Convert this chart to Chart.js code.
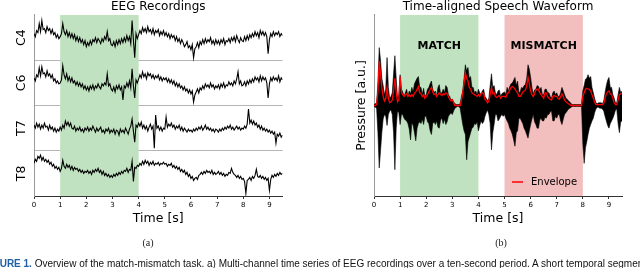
<!DOCTYPE html>
<html>
<head>
<meta charset="utf-8">
<script src="https://cdn.jsdelivr.net/npm/chart.js@4.4.0/dist/chart.umd.min.js"></script>
<style>
  body { margin: 0; width: 640px; height: 268px; overflow: hidden; background: #fff; position: relative; }
  .panel { position: absolute; top: 0; width: 320px; height: 268px; }
  .sub { position: absolute; top: 237px; width: 40px; text-align: center; line-height: 12px;
         font: 10px 'Liberation Serif', serif; color: #222; }
  .caption { position: absolute; left: -17px; top: 259px; font: 10px/10px 'Liberation Sans', sans-serif;
             white-space: nowrap; color: #111; }
  .caption b { color: #1f5fa8; }
</style>
</head>
<body>
<div class="panel" style="left:0"><canvas id="eeg"></canvas></div>
<div class="panel" style="left:320px"><canvas id="speech"></canvas></div>
<div class="sub" style="left:128px">(a)</div>
<div class="sub" style="left:481px">(b)</div>
<div class="caption"><b>FIGURE 1.</b> Overview of the match-mismatch task. a) Multi-channel time series of EEG recordings over a ten-second period. A short temporal segment</div>
<script>
// sampling step of all series, seconds
const dt = 0.05;
const timeTicks = [0, 1, 2, 3, 4, 5, 6, 7, 8, 9];
const channels = ['C4', 'C6', 'T7', 'T8'];

// EEG traces (arbitrary units, one value every 0.05 s)
const c4 = [4, 1, 7, 5, 14, 6, 17, 8, 9, 5, 11, 7, 9, 4, 8, 3, 5, 0, 3, -1,
  1, 4, 14, 6, 3, 7, 1, 5, 0, 4, -1, 3, -3, 1, -4, 0, -5, -2, -7, -3,
  -9, -5, -8, -3, -7, -2, -4, 0, -5, -1, -3, -6, -1, -4, 1, -2, 6, -3, -1, -7,
  -8, -4, -9, -3, -7, -2, -6, -1, -5, 0, -4, 2, -3, 1, -6, 17, -2, -20, 4, -1,
  3, 7, 4, 10, 6, 9, 5, 11, 6, 8, 4, 9, 3, 7, 5, 8, 2, 6, 3, 7,
  2, 5, 1, 4, -1, 3, 0, 2, -3, 1, -4, -1, -6, -2, -5, -9, -7, -4, -10, -8,
  -12, -7, -20, -11, -9, -5, -10, -4, -7, -2, -6, -1, -5, -2, -4, 0, -6, -3, -7, -2,
  -6, -3, -7, -2, -5, -1, -7, -3, -4, -1, -5, 0, -3, 1, -4, 2, -2, -5, 0, -3,
  -4, 1, -3, 2, -2, 3, 0, 4, 1, 6, 2, 5, 0, 7, 3, 6, 2, 5, 1, -16,
  -2, 4, 1, 6, 2, 5, 3, 6, 1, 4, 2];
const c6 = [5, 2, 8, 6, 15, 7, 16, 9, 10, 6, 12, 7, 9, 5, 8, 2, 4, 0, 2, -1,
  0, 3, 17, 8, 4, 9, 2, 6, 1, 5, 0, 2, -2, 1, -3, 0, -4, -1, -6, -3,
  -7, -4, -8, -3, -6, -2, -7, -3, -5, -1, -4, -6, -1, -3, 0, -2, 9, -3, -1, -6,
  -8, -4, -9, -3, -6, -2, -7, -4, -17, -3, -5, 0, -4, 2, -5, 14, -3, -15, 3, 0,
  4, 8, 5, 11, 6, 9, 4, 10, 7, 9, 5, 8, 4, 7, 5, 8, 3, 6, 2, 5,
  3, 5, 1, 4, 0, 3, -1, 2, -3, 0, -4, -1, -5, -3, -7, -4, -8, -6, -10, -7,
  -11, -8, -19, -12, -9, -6, -10, -5, -7, -3, -6, -1, -4, -2, -5, 0, -4, -2, -6, -3,
  -5, -2, -6, -1, -4, 0, -5, -2, -3, 1, -2, 0, -3, 2, -1, 4, 11, -1, 2, -3,
  -2, 1, -3, 2, -1, 3, 0, 4, 1, 6, 3, 5, 1, 7, 2, 6, 3, 5, 0, -15,
  -1, 5, 2, 6, 3, 5, 2, 7, 1, 5, 3];
const t7 = [3, 0, 5, 1, 4, -1, 3, 0, 5, 1, 2, -2, 3, -1, 1, -3, 0, -4, -1, -3,
  1, -2, 3, 0, 7, 3, 6, 2, 5, 0, -1, 2, -3, 0, -2, 1, -3, -1, -4, 0,
  -2, 1, -3, 0, -2, 2, -1, -4, 0, -3, -1, 1, -4, -2, -5, -1, -3, 0, -5, -2,
  -4, -1, -6, -2, -3, -7, -1, -4, -2, -5, 0, -3, -6, -1, 2, 9, -3, -14, 3, 1,
  5, 2, 6, 0, 3, -1, 2, -3, 1, 4, -1, 2, -20, 13, 0, 2, -2, 1, -3, 0,
  -1, 11, 1, 4, 2, 5, 1, 3, -1, 2, 0, 3, -2, 1, -3, 0, -2, -4, -1, -3,
  -2, -4, -1, -3, 0, -2, 1, -1, 2, -2, 0, 3, -1, 1, -2, 0, -3, -1, -4, -1,
  -2, -4, -1, -3, 0, -2, 1, -1, 2, 0, 3, -1, 1, -2, 0, 2, -1, 1, -2, 0,
  -1, 2, 0, 4, 19, 5, 8, 4, 7, 3, 5, 1, 3, -1, 2, -2, 0, -3, -1, -4,
  -2, -5, -3, -6, -4, -15, -6, -8, -5, -9, -7];
const t8 = [10, 14, 12, 17, 15, 18, 13, 16, 12, 14, 11, 13, 9, 11, 7, 9, 5, 7, 4, 6,
  2, 5, 13, 7, 5, 9, 6, 8, 4, 7, 3, 6, 4, 5, 2, 4, 1, 3, 0, 2,
  1, 3, 0, 2, -1, 3, 1, 4, 2, 5, 1, 3, -1, 2, -2, 0, -3, -1, -4, -2,
  -4, -1, -3, 0, -2, 1, -1, 2, 0, 3, 2, 5, 1, 4, 3, 12, -8, 6, 5, 8,
  7, 10, 8, 12, 9, 13, 10, 12, 8, 11, 9, 12, 8, 10, 9, 11, 8, 10, 9, 11,
  9, 10, 7, 9, 8, 10, 6, 8, 5, 7, 4, 6, 2, 4, 1, 3, -1, 1, -3, -1,
  -5, -3, -7, -5, -4, -6, -2, -1, 1, -1, 2, 0, 3, 1, 2, 0, 3, -1, 1, -1,
  0, 2, -1, 1, -2, 0, -3, -1, -2, 1, 0, 5, 1, -1, -2, -4, -2, -5, -3, -6,
  -5, -8, -20, -7, -6, -4, -7, -3, -5, -2, 4, -3, -4, -2, -5, -3, -6, -4, -7, -5,
  -17, -6, -2, -4, -1, -3, 0, -2, 1, -1, 0];

// speech waveform: positive and negative excursions, and its envelope
const speechUpper = [0.01, 0.02, 0.03, 0.25, 0.64, 0.5, 0.3, 0.22, 0.12, 0.18, 0.53, 0.2, 0.08, 0.1, 0.14, 0.35, 0.55, 0.3, 0.08, 0.12,
  0.34, 0.18, 0.15, 0.1, 0.14, 0.18, 0.1, 0.16, 0.13, 0.2, 0.15, 0.24, 0.27, 0.3, 0.32, 0.2, 0.2, 0.12, 0.19, 0.1,
  0.12, 0.18, 0.2, 0.24, 0.27, 0.18, 0.14, 0.16, 0.1, 0.2, 0.23, 0.13, 0.14, 0.18, 0.14, 0.22, 0.2, 0.12, 0.1, 0.06,
  0.07, 0.04, 0.02, 0.01, 0.01, 0.01, 0.02, 0.1, 0.16, 0.3, 0.45, 0.38, 0.42, 0.3, 0.32, 0.2, 0.2, 0.14, 0.16, 0.12,
  0.18, 0.14, 0.12, 0.16, 0.18, 0.1, 0.08, 0.05, 0.08, 0.22, 0.35, 0.2, 0.22, 0.14, 0.12, 0.16, 0.17, 0.1, 0.13, 0.14,
  0.15, 0.12, 0.2, 0.16, 0.21, 0.24, 0.25, 0.28, 0.31, 0.22, 0.27, 0.14, 0.15, 0.2, 0.19, 0.22, 0.23, 0.3, 0.45, 0.4,
  0.31, 0.2, 0.12, 0.17, 0.18, 0.22, 0.21, 0.17, 0.2, 0.12, 0.12, 0.18, 0.18, 0.14, 0.14, 0.1, 0.08, 0.14, 0.16, 0.12,
  0.14, 0.1, 0.1, 0.14, 0.2, 0.16, 0.12, 0.08, 0.07, 0.05, 0.04, 0.02, 0.01, 0.01, 0.01, 0.01, 0.01, 0.01, 0.01, 0.01,
  0.16, 0.22, 0.29, 0.3, 0.34, 0.3, 0.32, 0.2, 0.14, 0.08, 0.03, 0.02, 0.03, 0.03, 0.03, 0.02, 0.05, 0.14, 0.22, 0.28,
  0.31, 0.2, 0.2, 0.12, 0.08, 0.03, 0.03, 0.12, 0.2, 0.14, 0.16];
const speechLower = [-0.01, -0.02, -0.03, -0.3, -0.69, -0.5, -0.3, -0.15, -0.1, -0.12, -0.22, -0.1, -0.06, -0.05, -0.1, -0.3, -0.71, -0.25, -0.06, -0.08,
  -0.21, -0.1, -0.1, -0.14, -0.16, -0.17, -0.2, -0.26, -0.38, -0.19, -0.22, -0.3, -0.39, -0.25, -0.2, -0.18, -0.2, -0.15, -0.21, -0.12,
  -0.12, -0.18, -0.2, -0.28, -0.32, -0.2, -0.18, -0.21, -0.17, -0.24, -0.25, -0.16, -0.14, -0.2, -0.15, -0.21, -0.18, -0.12, -0.1, -0.08,
  -0.1, -0.06, -0.03, -0.02, -0.01, -0.01, -0.03, -0.12, -0.21, -0.28, -0.32, -0.6, -0.4, -0.35, -0.3, -0.25, -0.24, -0.2, -0.21, -0.18,
  -0.28, -0.22, -0.17, -0.2, -0.18, -0.12, -0.08, -0.05, -0.1, -0.2, -0.49, -0.3, -0.21, -0.1, -0.1, -0.17, -0.15, -0.12, -0.1, -0.12,
  -0.1, -0.14, -0.17, -0.2, -0.25, -0.28, -0.32, -0.38, -0.45, -0.3, -0.28, -0.14, -0.14, -0.17, -0.2, -0.25, -0.28, -0.32, -0.36, -0.28,
  -0.21, -0.15, -0.1, -0.18, -0.21, -0.25, -0.25, -0.16, -0.14, -0.17, -0.17, -0.13, -0.14, -0.1, -0.1, -0.07, -0.06, -0.17, -0.17, -0.12,
  -0.14, -0.1, -0.1, -0.17, -0.21, -0.15, -0.1, -0.08, -0.06, -0.04, -0.03, -0.02, -0.01, -0.01, -0.01, -0.01, -0.01, -0.01, -0.01, -0.01,
  -0.43, -0.64, -0.47, -0.4, -0.32, -0.25, -0.21, -0.17, -0.14, -0.08, -0.04, -0.02, -0.02, -0.03, -0.03, -0.04, -0.06, -0.12, -0.17, -0.22,
  -0.25, -0.2, -0.17, -0.14, -0.1, -0.05, -0.04, -0.2, -0.3, -0.18, -0.17];
const envelope = [0, 0, 0.01, 0.15, 0.49, 0.35, 0.2, 0.1, 0.05, 0.08, 0.2, 0.08, 0.03, 0.04, 0.06, 0.16, 0.3, 0.15, 0.04, 0.06,
  0.32, 0.15, 0.12, 0.1, 0.12, 0.13, 0.1, 0.12, 0.1, 0.12, 0.1, 0.14, 0.15, 0.18, 0.21, 0.14, 0.13, 0.1, 0.12, 0.08,
  0.1, 0.12, 0.15, 0.18, 0.2, 0.15, 0.12, 0.13, 0.1, 0.12, 0.14, 0.12, 0.11, 0.13, 0.12, 0.14, 0.13, 0.1, 0.07, 0.05,
  0.06, 0.03, 0, 0, 0, 0, 0, 0.06, 0.14, 0.25, 0.36, 0.3, 0.27, 0.2, 0.18, 0.14, 0.13, 0.12, 0.11, 0.1,
  0.12, 0.1, 0.13, 0.14, 0.13, 0.07, 0.05, 0.03, 0.05, 0.12, 0.2, 0.13, 0.14, 0.1, 0.09, 0.1, 0.11, 0.08, 0.1, 0.1,
  0.1, 0.09, 0.13, 0.14, 0.17, 0.2, 0.21, 0.2, 0.18, 0.16, 0.14, 0.1, 0.1, 0.12, 0.15, 0.16, 0.17, 0.22, 0.31, 0.24,
  0.16, 0.12, 0.1, 0.13, 0.17, 0.18, 0.18, 0.14, 0.12, 0.1, 0.08, 0.14, 0.14, 0.1, 0.08, 0.07, 0.06, 0.1, 0.11, 0.1,
  0.1, 0.08, 0.07, 0.1, 0.13, 0.1, 0.06, 0.04, 0.03, 0.02, 0.01, 0, 0, 0, 0, 0, 0, 0, 0, 0,
  0.1, 0.14, 0.18, 0.19, 0.18, 0.18, 0.16, 0.12, 0.08, 0.04, 0.01, 0.01, 0.01, 0.01, 0.01, 0.01, 0.02, 0.08, 0.13, 0.15,
  0.16, 0.13, 0.12, 0.08, 0.03, 0.01, 0.01, 0.06, 0.12, 0.13, 0.14];

const matchSpan = [1, 4];
const mismatchSpan = [5, 8];

Chart.defaults.font.family = "'DejaVu Sans', sans-serif";
Chart.defaults.color = '#000';
Chart.defaults.animation = false;

function toPoints(arr, gain, offset) {
  return arr.map((v, i) => ({ x: +(i * dt).toFixed(2), y: offset + v * gain }));
}

// shaded time windows, optionally with a bold label
const spansPlugin = {
  id: 'spans',
  beforeDatasetsDraw(chart, args, opts) {
    const { ctx, chartArea: a, scales: { x } } = chart;
    (opts.items || []).forEach(s => {
      const x1 = x.getPixelForValue(s.from), x2 = x.getPixelForValue(s.to);
      ctx.save();
      ctx.fillStyle = s.color;
      ctx.fillRect(x1, a.top, x2 - x1, a.bottom - a.top);
      ctx.restore();
    });
  },
  afterDatasetsDraw(chart, args, opts) {
    const { ctx, scales: { x, y } } = chart;
    (opts.items || []).forEach(s => {
      if (!s.label) return;
      ctx.save();
      ctx.font = "bold 11px 'DejaVu Sans'";
      ctx.fillStyle = '#000';
      ctx.textAlign = 'center';
      ctx.textBaseline = 'middle';
      ctx.fillText(s.label, x.getPixelForValue((s.from + s.to) / 2), y.getPixelForValue(s.labelY));
      ctx.restore();
    });
  }
};

// rotated channel names beside each EEG row
const channelLabels = {
  id: 'channelLabels',
  afterDraw(chart) {
    const { ctx, scales: { y } } = chart;
    channels.forEach((name, i) => {
      const yc = y.getPixelForValue(channels.length - i - 0.5);
      ctx.save();
      ctx.translate(22, yc);
      ctx.rotate(-Math.PI / 2);
      ctx.font = "12.5px 'DejaVu Sans'";
      ctx.fillStyle = '#000';
      ctx.textAlign = 'center';
      ctx.textBaseline = 'middle';
      ctx.fillText(name, 0, 0);
      ctx.restore();
    });
  }
};

// small legend in the lower right corner of the plot area
const cornerLegend = {
  id: 'cornerLegend',
  afterDatasetsDraw(chart) {
    const { ctx, chartArea: a } = chart;
    const ds = chart.data.datasets.find(d => d.label === 'Envelope');
    const yy = a.bottom - 14;
    ctx.save();
    ctx.strokeStyle = ds.borderColor;
    ctx.lineWidth = 1.5;
    ctx.beginPath();
    ctx.moveTo(a.right - 110, yy);
    ctx.lineTo(a.right - 99, yy);
    ctx.stroke();
    ctx.font = "10px 'DejaVu Sans'";
    ctx.fillStyle = '#000';
    ctx.textBaseline = 'middle';
    ctx.fillText(ds.label, a.right - 91, yy);
    ctx.restore();
  }
};

function timeAxis() {
  return {
    type: 'linear', min: 0, max: 9.5,
    ticks: { padding: 2, font: { size: 7 } },
    afterBuildTicks: s => { s.ticks = timeTicks.map(v => ({ value: v })); },
    grid: { drawOnChartArea: false, tickLength: 3, color: '#333' },
    border: { color: '#333' },
    title: { display: true, text: 'Time [s]', font: { size: 12.5 }, padding: { top: 2, bottom: 0 } },
    afterFit: s => { s.height = 30; }
  };
}

const eegSets = [c4, c6, t7, t8].map((arr, i) => ({
  label: channels[i],
  data: toPoints(arr, 1 / 45, channels.length - i - 0.5),
  borderColor: '#000',
  borderWidth: 1.1,
  pointRadius: 0,
  fill: false
}));

new Chart(document.getElementById('eeg'), {
  type: 'line',
  data: { datasets: eegSets },
  options: {
    responsive: true, maintainAspectRatio: false,
    layout: { padding: { left: 0, right: 37.5, top: 0, bottom: 42 } },
    scales: {
      x: timeAxis(),
      y: {
        min: 0, max: 4,
        ticks: { display: false, stepSize: 1 },
        grid: { drawTicks: false, color: c => (c.tick && c.tick.value > 0 && c.tick.value < 4) ? '#b5b5b5' : 'rgba(0,0,0,0)' },
        border: { color: '#999' },
        afterFit: s => { s.width = 34; }
      }
    },
    plugins: {
      legend: { display: false },
      tooltip: { enabled: false },
      title: { display: true, text: 'EEG Recordings', fullSize: false, font: { size: 12, weight: 'normal' }, padding: { top: 0, bottom: 0.6 } },
      spans: { items: [{ from: matchSpan[0], to: matchSpan[1], color: '#c0e2c0' }] }
    }
  },
  plugins: [spansPlugin, channelLabels]
});

new Chart(document.getElementById('speech'), {
  type: 'line',
  data: {
    datasets: [
      { label: 'Envelope', data: toPoints(envelope, 1, 0), borderColor: '#ff0000', borderWidth: 1.3, pointRadius: 0, fill: false, order: 0 },
      { label: 'Upper', data: toPoints(speechUpper, 1, 0), borderColor: '#000', backgroundColor: '#000', borderWidth: 0.6, pointRadius: 0, fill: '+1', order: 1 },
      { label: 'Lower', data: toPoints(speechLower, 1, 0), borderColor: '#000', borderWidth: 0.6, pointRadius: 0, fill: false, order: 1 }
    ]
  },
  options: {
    responsive: true, maintainAspectRatio: false,
    layout: { padding: { left: 0, right: 18, top: 0, bottom: 42 } },
    scales: {
      x: timeAxis(),
      y: {
        min: -1, max: 1,
        ticks: { display: false },
        grid: { display: false },
        border: { color: '#999' },
        title: { display: true, text: 'Pressure [a.u.]', font: { size: 12.5 }, padding: { top: 34.5, bottom: 0 } },
        afterFit: s => { s.width = 54; }
      }
    },
    plugins: {
      legend: { display: false },
      tooltip: { enabled: false },
      title: { display: true, text: 'Time-aligned Speech Waveform', fullSize: false, font: { size: 12, weight: 'normal' }, padding: { top: 0, bottom: 0.6 } },
      spans: {
        items: [
          { from: matchSpan[0], to: matchSpan[1], color: '#c0e2c0', label: 'MATCH', labelY: 0.66 },
          { from: mismatchSpan[0], to: mismatchSpan[1], color: '#f3bebe', label: 'MISMATCH', labelY: 0.66 }
        ]
      }
    }
  },
  plugins: [spansPlugin, cornerLegend]
});
</script>
</body>
</html>
